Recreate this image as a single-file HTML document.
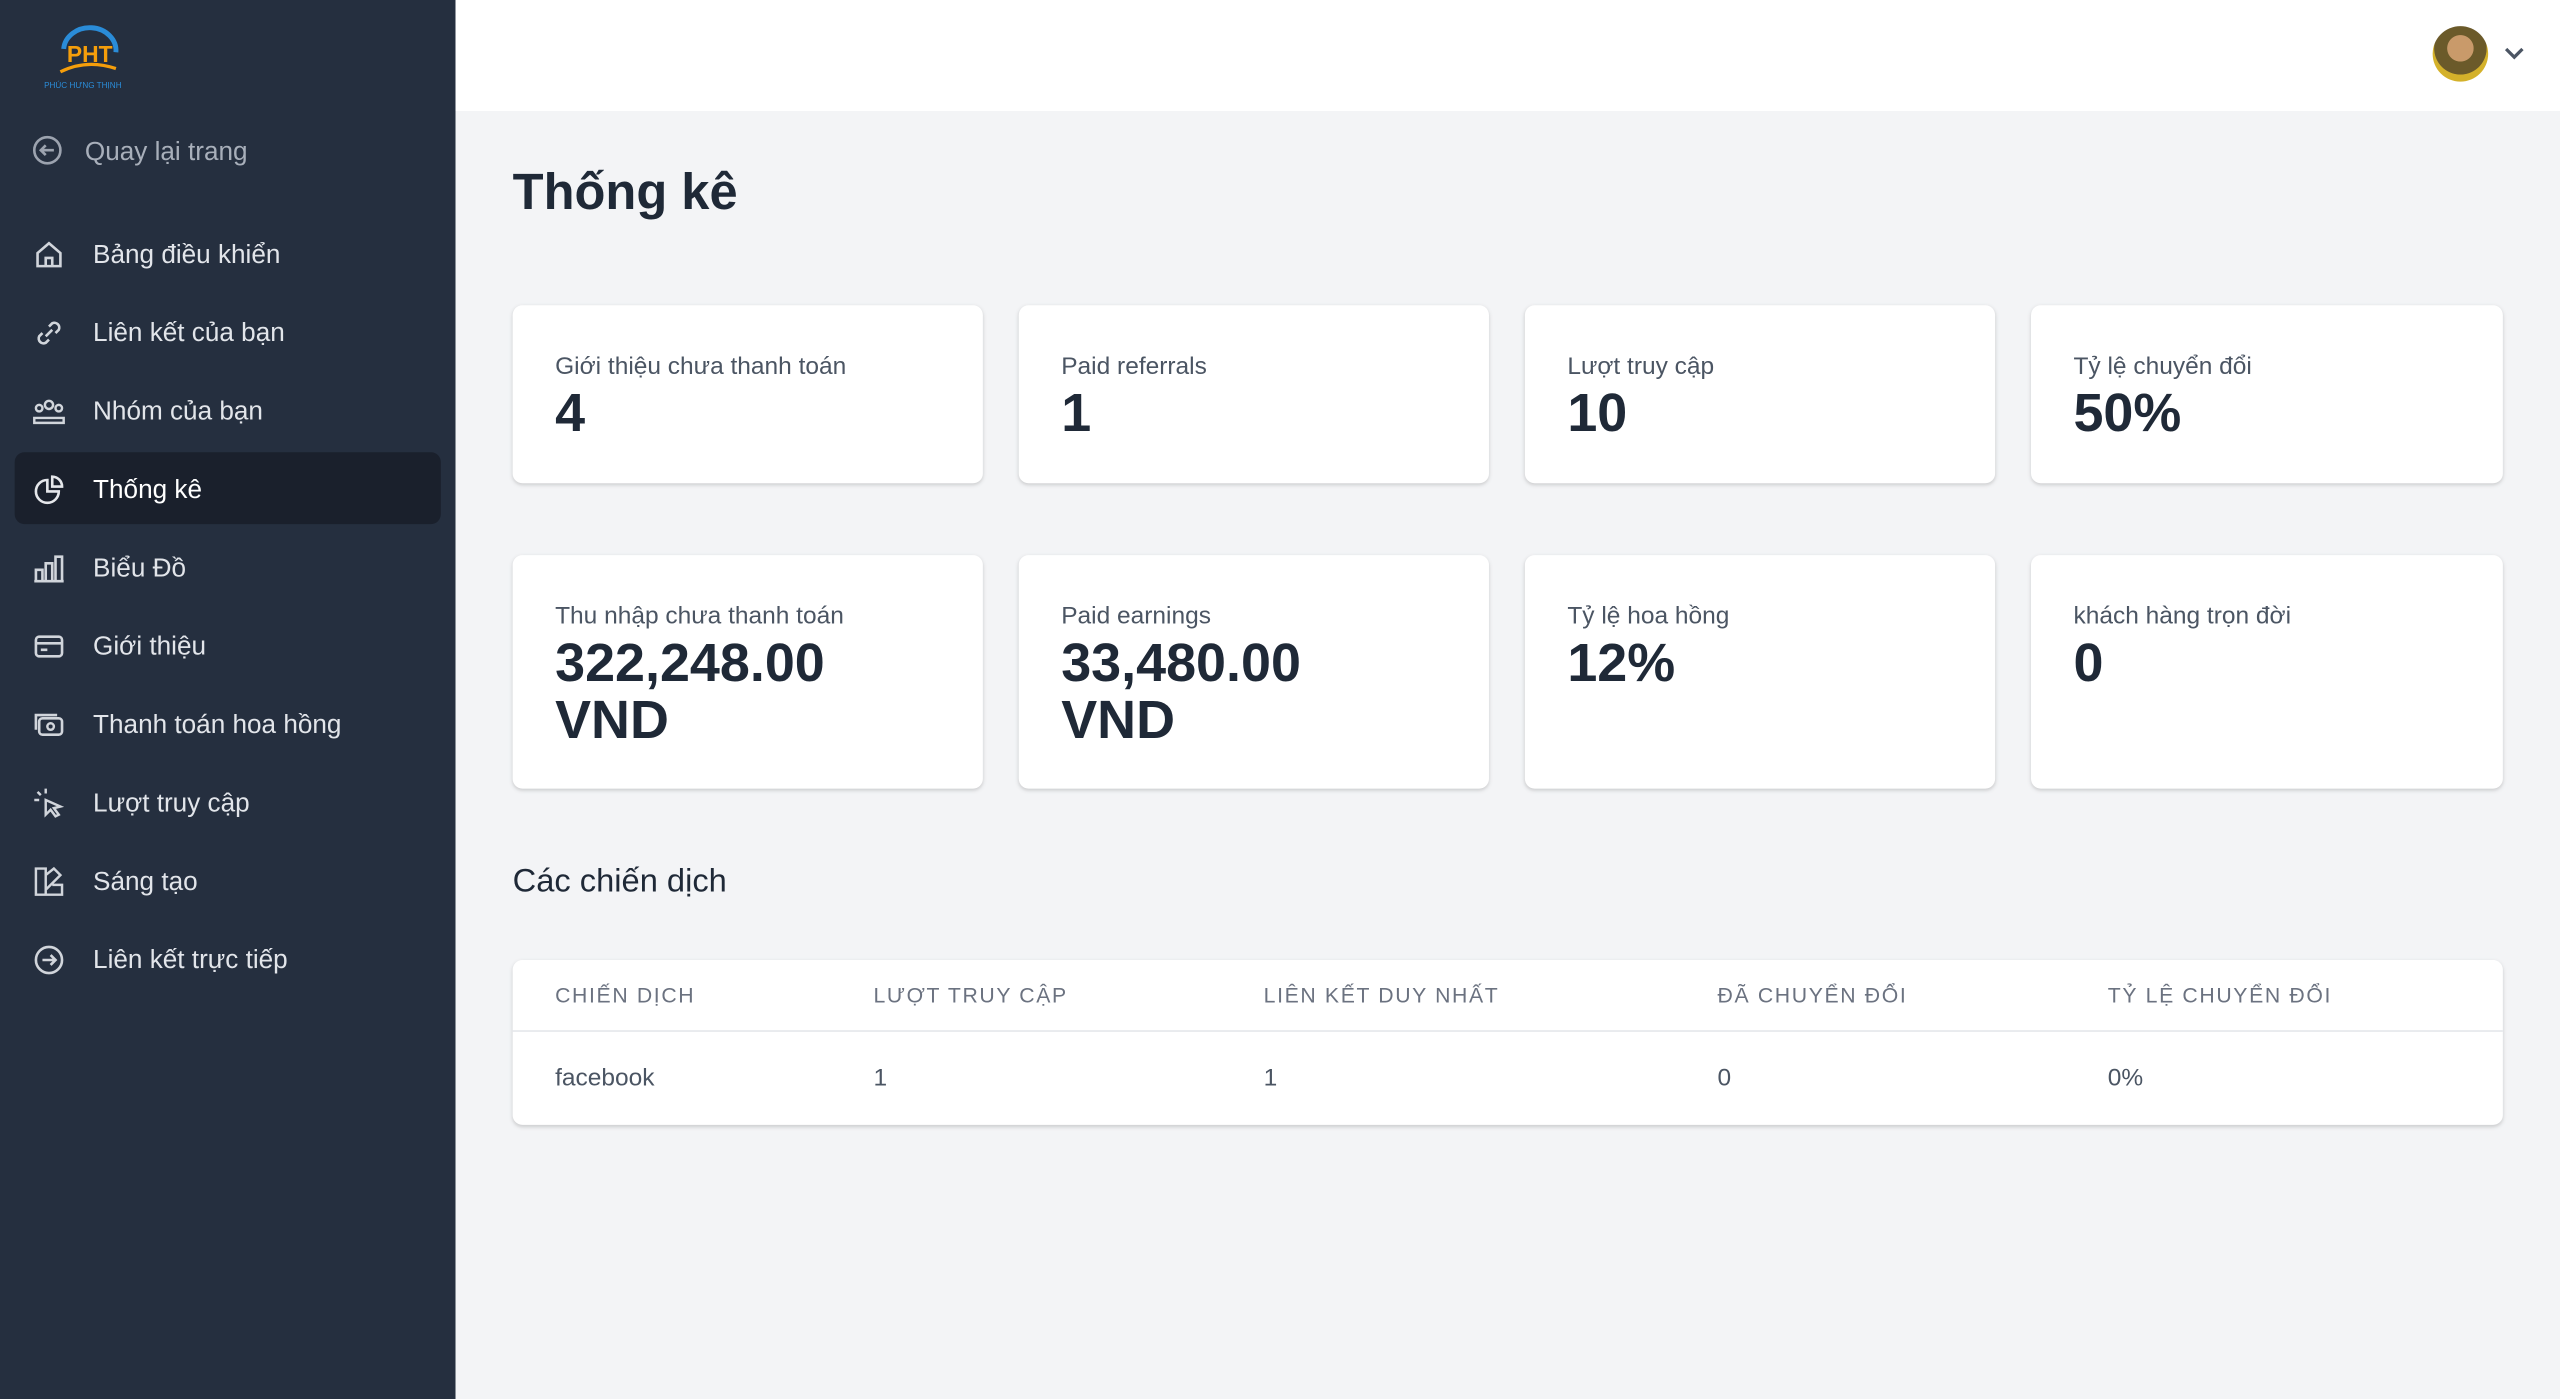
<!DOCTYPE html>
<html><head><meta charset="utf-8"><style>
html,body{margin:0;padding:0;width:2560px;height:1399px;overflow:hidden;background:#f3f4f6}
#w{position:absolute;left:0;top:0;width:1568px;height:857px;transform:scale(1.63265);transform-origin:0 0;font-family:"Liberation Sans","Noto Sans CJK SC",sans-serif;}
.sb{position:absolute;left:0;top:0;width:279px;height:857px;background:#252f3f}
.hd{position:absolute;left:279px;top:0;right:0;height:68px;background:#fff}
.it{position:absolute;left:57px;font-size:16px;color:#e2e5ea;line-height:20px;margin-top:2px}
.ic{position:absolute;left:20px;width:20px;height:20px}
.act{position:absolute;left:9px;top:277px;width:261px;height:44px;background:#1a202c;border-radius:6px}
.card{position:absolute;background:#fff;border-radius:6px;box-shadow:0 1px 3px rgba(0,0,0,.12),0 1px 2px rgba(0,0,0,.06)}
.lb{position:absolute;left:26px;top:29px;font-size:15px;color:#4b5563}
.v{position:absolute;left:26px;top:48px;font-size:33px;font-weight:bold;color:#1f2937;line-height:35px}
.th{position:absolute;top:14px;font-size:13px;letter-spacing:1px;color:#6b7280}
.td{position:absolute;top:64px;font-size:15px;color:#4b5563}
</style></head><body><div id="w">
<div class="sb">
<div style="position:absolute;left:27px;top:12px;width:50px;height:38px">
<svg width="52" height="50"><path d="M12 18 A16 14 0 0 1 44 20" stroke="#2a8cd8" stroke-width="3" fill="none"/><text x="14" y="26" font-size="14" font-weight="bold" fill="#f59e0b" font-family="Liberation Sans">PHT</text><path d="M10 32 Q26 24 44 30" stroke="#f59e0b" stroke-width="2" fill="none"/><text x="0" y="42" font-size="5" fill="#2a8cd8" font-family="Liberation Sans">PHÚC HƯNG THỊNH</text></svg></div>
<svg class="ic" style="top:83px" viewBox="0 0 20 20"><circle cx="9" cy="9" r="8" stroke="#9ca3af" stroke-width="1.6" fill="none"/><path d="M13 9H5M8 6L5 9L8 12" stroke="#9ca3af" stroke-width="1.6" fill="none"/></svg>
<div class="it" style="left:52px;top:82px;color:#a8afba">Quay lại trang</div>
<div class="act"></div>
<svg class="ic" style="top:146px" viewBox="0 0 20 20"><path d="M3 9L10 3L17 9V17H3Z M8 17V12H12V17" stroke="#d1d5db" stroke-width="1.6" fill="none"/></svg>
<div class="it" style="top:145px">Bảng điều khiển</div>
<svg class="ic" style="top:194px" viewBox="0 0 20 20"><path d="M8 12L12 8M6 10L4 12a3 3 0 004 4l2-2M14 10l2-2a3 3 0 00-4-4l-2 2" stroke="#d1d5db" stroke-width="1.6" fill="none"/></svg>
<div class="it" style="top:193px">Liên kết của bạn</div>
<svg class="ic" style="top:242px" viewBox="0 0 20 20"><circle cx="10" cy="6" r="2.5" stroke="#d1d5db" stroke-width="1.5" fill="none"/><circle cx="4" cy="8" r="2" stroke="#d1d5db" stroke-width="1.5" fill="none"/><circle cx="16" cy="8" r="2" stroke="#d1d5db" stroke-width="1.5" fill="none"/><path d="M1 17v-3h18v3z" stroke="#d1d5db" stroke-width="1.5" fill="none"/></svg>
<div class="it" style="top:241px">Nhóm của bạn</div>
<svg class="ic" style="top:290px" viewBox="0 0 20 20"><path d="M9 4a7 7 0 107 7H9z M12 2v6h6a6 6 0 00-6-6z" stroke="#e5e7eb" stroke-width="1.6" fill="none"/></svg>
<div class="it" style="top:289px;color:#fff">Thống kê</div>
<svg class="ic" style="top:338px" viewBox="0 0 20 20"><path d="M2 18V11H6V18M8 18V7H12V18M14 18V3H18V18M1 18H19" stroke="#d1d5db" stroke-width="1.6" fill="none"/></svg>
<div class="it" style="top:337px">Biểu Đồ</div>
<svg class="ic" style="top:386px" viewBox="0 0 20 20"><rect x="2" y="4" width="16" height="12" rx="2" stroke="#d1d5db" stroke-width="1.6" fill="none"/><path d="M2 8H18M5 12H9" stroke="#d1d5db" stroke-width="1.6"/></svg>
<div class="it" style="top:385px">Giới thiệu</div>
<svg class="ic" style="top:434px" viewBox="0 0 20 20"><rect x="4" y="6" width="14" height="10" rx="2" stroke="#d1d5db" stroke-width="1.6" fill="none"/><path d="M2 13V4H15" stroke="#d1d5db" stroke-width="1.6" fill="none"/><circle cx="11" cy="11" r="2" stroke="#d1d5db" stroke-width="1.5" fill="none"/></svg>
<div class="it" style="top:433px">Thanh toán hoa hồng</div>
<svg class="ic" style="top:482px" viewBox="0 0 20 20"><path d="M8 8L17 12L13 13L16 17L14 18L11 14L8 17Z M3 3L5 5M8 1V4M1 8H4" stroke="#d1d5db" stroke-width="1.5" fill="none"/></svg>
<div class="it" style="top:481px">Lượt truy cập</div>
<svg class="ic" style="top:530px" viewBox="0 0 20 20"><path d="M2 2H8V18H2Z M8 6L13 2L17 6L8 15 M8 18H18V12H12" stroke="#d1d5db" stroke-width="1.5" fill="none"/></svg>
<div class="it" style="top:529px">Sáng tạo</div>
<svg class="ic" style="top:578px" viewBox="0 0 20 20"><circle cx="10" cy="10" r="8" stroke="#d1d5db" stroke-width="1.6" fill="none"/><path d="M6 10H14M11 7L14 10L11 13" stroke="#d1d5db" stroke-width="1.6" fill="none"/></svg>
<div class="it" style="top:577px">Liên kết trực tiếp</div>
</div>
<div class="hd">
<div style="position:absolute;left:1211px;top:16px;width:34px;height:34px;border-radius:50%;background:radial-gradient(circle at 50% 40%,#c99a6a 0 30%,#6b5a2a 31% 60%,#d4b12a 61%)"></div>
<svg style="position:absolute;left:1255px;top:28px" width="12" height="10"><path d="M1 2L6 7L11 2" stroke="#4b5563" stroke-width="2" fill="none"/></svg>
</div>
<div style="position:absolute;left:314px;top:100px;font-size:31px;font-weight:bold;color:#1f2937">Thống kê</div>
<div class="card" style="left:314px;top:187px;width:288px;height:109px"><div class="lb">Giới thiệu chưa thanh toán</div><div class="v">4</div></div>
<div class="card" style="left:624px;top:187px;width:288px;height:109px"><div class="lb">Paid referrals</div><div class="v">1</div></div>
<div class="card" style="left:934px;top:187px;width:288px;height:109px"><div class="lb">Lượt truy cập</div><div class="v">10</div></div>
<div class="card" style="left:1244px;top:187px;width:289px;height:109px"><div class="lb">Tỷ lệ chuyển đổi</div><div class="v">50%</div></div>
<div class="card" style="left:314px;top:340px;width:288px;height:143px"><div class="lb">Thu nhập chưa thanh toán</div><div class="v">322,248.00<br>VND</div></div>
<div class="card" style="left:624px;top:340px;width:288px;height:143px"><div class="lb">Paid earnings</div><div class="v">33,480.00<br>VND</div></div>
<div class="card" style="left:934px;top:340px;width:288px;height:143px"><div class="lb">Tỷ lệ hoa hồng</div><div class="v">12%</div></div>
<div class="card" style="left:1244px;top:340px;width:289px;height:143px"><div class="lb">khách hàng trọn đời</div><div class="v">0</div></div>
<div style="position:absolute;left:314px;top:529px;font-size:20px;color:#1f2937">Các chiến dịch</div>
<div class="card" style="left:314px;top:588px;width:1219px;height:101px">
<div style="position:absolute;left:0;right:0;top:43px;border-top:1px solid #e5e7eb"></div>
<div class="th" style="left:26px">CHIẾN DỊCH</div><div class="th" style="left:221px">LƯỢT TRUY CẬP</div><div class="th" style="left:460px">LIÊN KẾT DUY NHẤT</div><div class="th" style="left:738px">ĐÃ CHUYỂN ĐỔI</div><div class="th" style="left:977px">TỶ LỆ CHUYỂN ĐỔI</div>
<div class="td" style="left:26px">facebook</div><div class="td" style="left:221px">1</div><div class="td" style="left:460px">1</div><div class="td" style="left:738px">0</div><div class="td" style="left:977px">0%</div>
</div>
</div></body></html>
